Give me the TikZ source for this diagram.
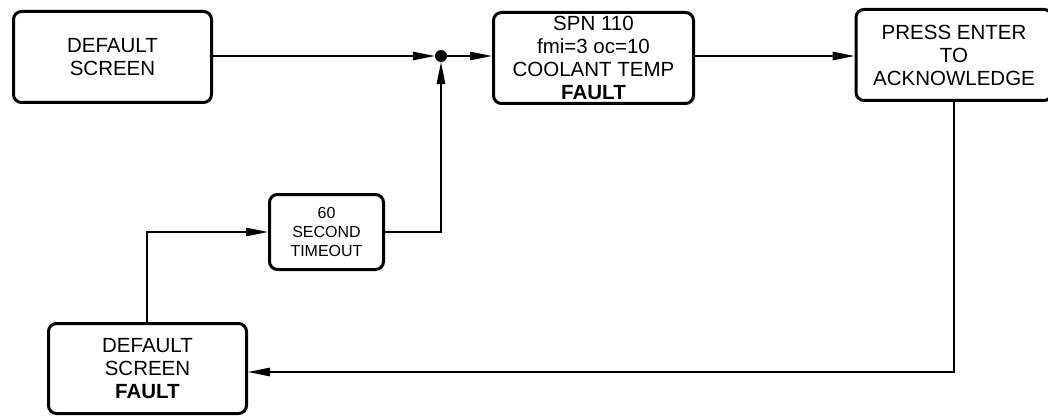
\documentclass[tikz,border=0pt]{standalone}
\usepackage{fontspec}
\setmainfont{Liberation Sans}
\usetikzlibrary{arrows.meta,calc}
\begin{document}
\begin{tikzpicture}[x=1pt,y=-1pt,
  box/.style={draw=black, line width=3pt, rounded corners=8pt, align=center,
    inner sep=0pt, font=\fontsize{20.5}{23}\selectfont},
  smallbox/.style={box, font=\fontsize{16}{19}\selectfont},
  conn/.style={draw=black, line width=1.3pt},
  arr/.style={conn, -{Triangle[length=22pt,width=8.5pt]}}]
\useasboundingbox (0,0) rectangle (1048,417);
\node[box, minimum width=198pt, minimum height=91pt] (b1) at (112.5,57) {DEFAULT\\SCREEN};
\node[box, minimum width=200pt, minimum height=91pt] (b2) at (593.5,58) {SPN 110\\fmi=3 oc=10\\COOLANT TEMP\\\textbf{FAULT}};
\node[box, minimum width=196pt, minimum height=91pt] (b3) at (954,55) {PRESS ENTER\\TO\\ACKNOWLEDGE};
\node[smallbox, minimum width=114pt, minimum height=75pt] (b4) at (326.5,232) {60\\SECOND\\TIMEOUT};
\node[box, minimum width=198pt, minimum height=90pt] (b5) at (147.5,368.5) {DEFAULT\\SCREEN\\\textbf{FAULT}};
\node[circle, fill=black, inner sep=0pt, minimum size=12pt] (dot) at (441,56) {};
\coordinate (c1) at (441,232);
\coordinate (c2) at (954,372);
\coordinate (c3) at (147,232);
\draw[arr] (b1.east |- dot) -- (dot.west);
\draw[arr] (dot.east) -- (dot -| b2.west);
\draw[arr] (b4.east |- c1) -- (c1) -- (dot.south);
\draw[arr] (b2.east |- dot) -- (dot -| b3.west);
\draw[arr] (c2 |- b3.south) -- (c2) -- (c2 -| b5.east);
\draw[arr] (c3 |- b5.north) -- (c3) -- (b4.west |- c3);
\end{tikzpicture}
\end{document}
